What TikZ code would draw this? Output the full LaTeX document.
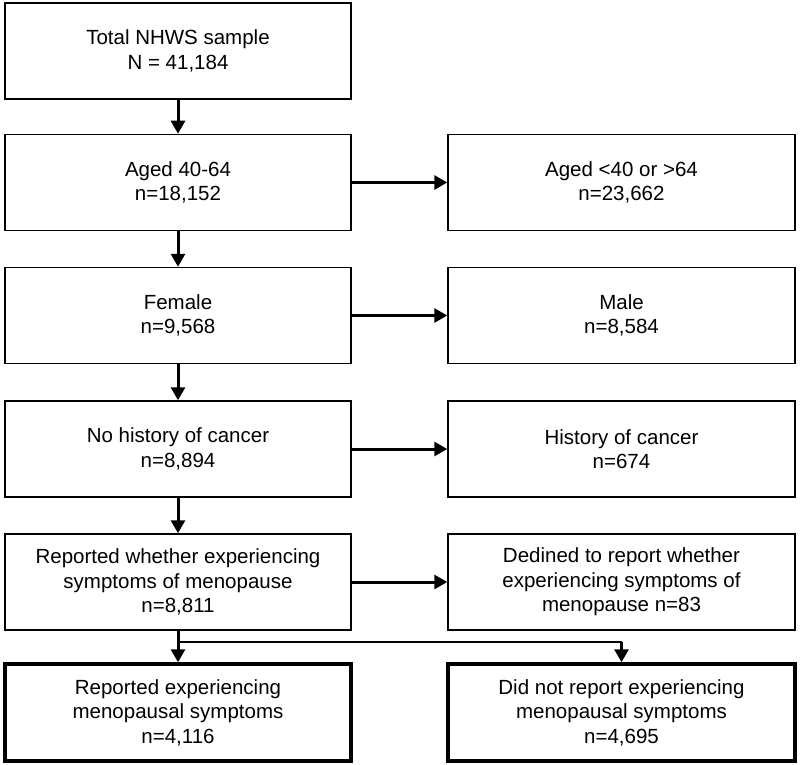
\documentclass[tikz,border=0pt]{standalone}
\usepackage{fontspec}
\setmainfont{Liberation Sans}
\usetikzlibrary{arrows.meta}
\begin{document}
\begin{tikzpicture}[x=1pt,y=-1pt,
  box/.style={draw, line width=1.5pt, minimum width=346pt, minimum height=96pt,
    align=center, inner sep=2pt, font=\fontsize{20.5}{24.5}\selectfont},
  rbox/.style={box, minimum width=347pt},
  finalbox/.style={box, line width=3.5pt, minimum height=97pt},
  arr/.style={line width=3pt, -{Triangle[length=13pt,width=14pt]}},
  thinline/.style={line width=1.5pt},
]
\useasboundingbox (0,0) rectangle (800,765);
% left column
\node[box] (b1) at (178,51) {Total NHWS sample\\N = 41,184};
\node[box] (b2) at (178,182.5) {Aged 40-64\\n=18,152};
\node[box] (b3) at (178,315.5) {Female\\n=9,568};
\node[box] (b4) at (178,449) {No history of cancer\\n=8,894};
\node[box] (b5) at (178,582) {Reported whether experiencing\\symptoms of menopause\\n=8,811};
\node[finalbox] (b6) at (178,712.5) {Reported experiencing\\menopausal symptoms\\n=4,116};
% right column
\node[rbox] (r2) at (621.5,182.5) {Aged <40 or >64\\n=23,662};
\node[rbox] (r3) at (621.5,315.5) {Male\\n=8,584};
\node[rbox] (r4) at (621.5,449) {History of cancer\\n=674};
\node[rbox] (r5) at (621.5,582) {Dedined to report whether\\experiencing symptoms of\\menopause n=83};
\node[finalbox, minimum width=347pt] (r6) at (621.5,712.5) {Did not report experiencing\\menopausal symptoms\\n=4,695};
% vertical arrows
\draw[arr] (b1) -- (b2);
\draw[arr] (b2) -- (b3);
\draw[arr] (b3) -- (b4);
\draw[arr] (b4) -- (b5);
\draw[arr] (b5) -- (b6);
% horizontal arrows
\draw[arr] (b2) -- (r2);
\draw[arr] (b3) -- (r3);
\draw[arr] (b4) -- (r4);
\draw[arr] (b5) -- (r5);
% split to the right final box
\coordinate (sl) at (178,642);
\coordinate (sr) at (621.5,642);
\draw[thinline] (sl) -- (sr);
\draw[arr] (sr) -- (r6.north);
\end{tikzpicture}
\end{document}
